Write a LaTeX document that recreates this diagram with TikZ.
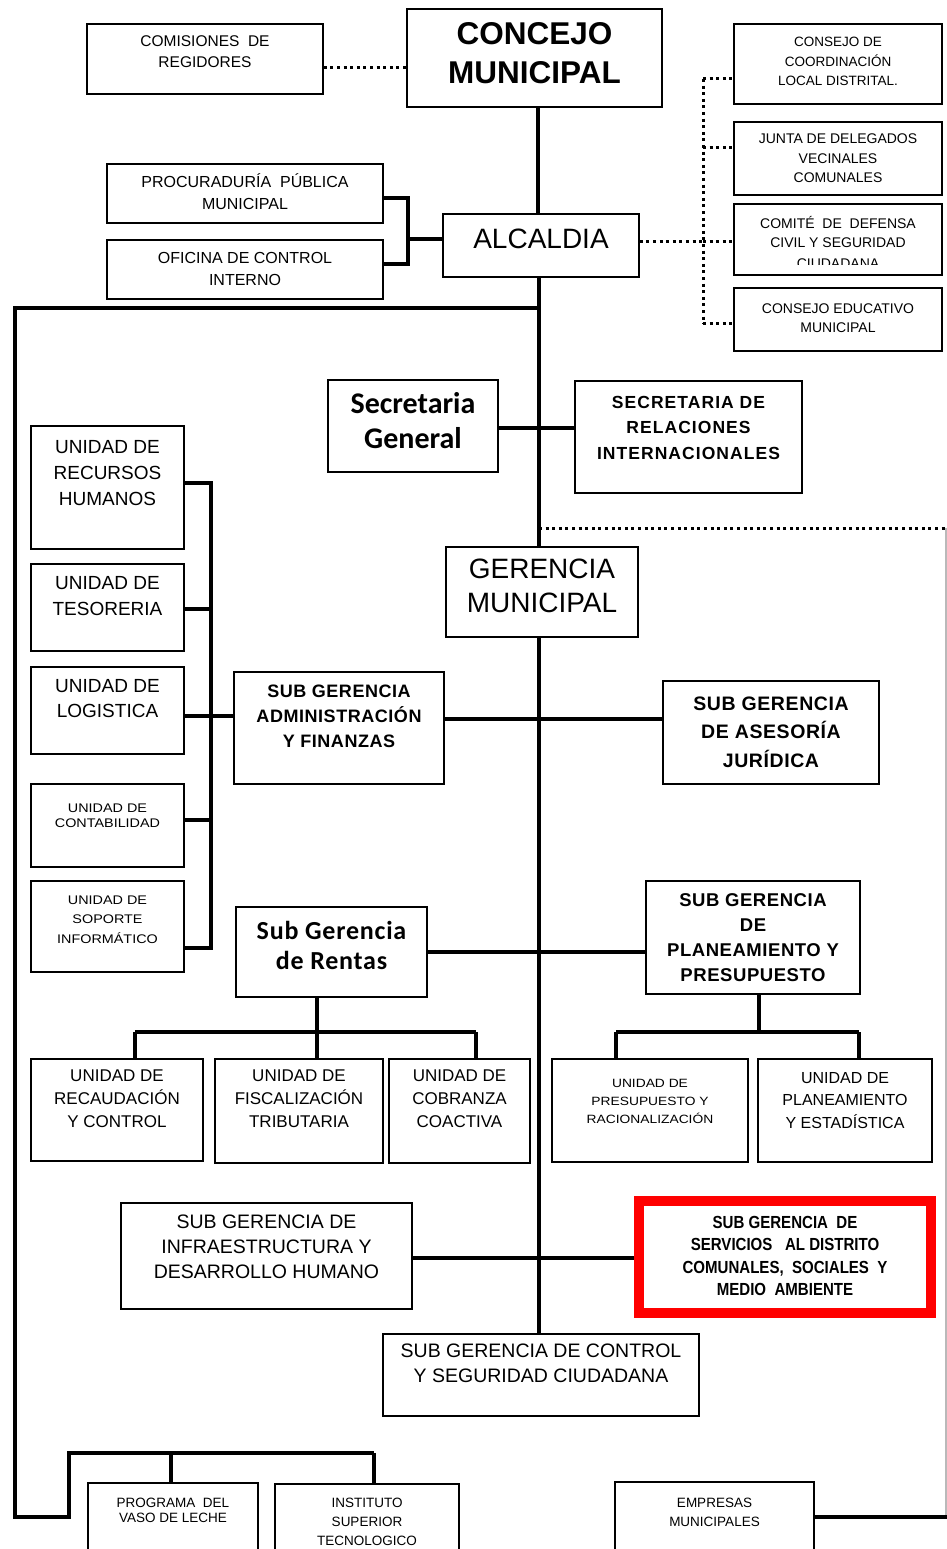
\documentclass[tikz,border=0pt]{standalone}
\usepackage{fontspec}
\setmainfont{Liberation Sans}
\newfontfamily\carlito{Carlito}
\newfontfamily\carlitosp[LetterSpace=3]{Carlito}
\newfontfamily\widesans[FakeStretch=1.15]{Liberation Sans}
\newfontfamily\narrowsans[FakeStretch=0.86]{Liberation Sans}
\newfontfamily\spacedA[LetterSpace=6]{Liberation Sans}
\newfontfamily\spacedB[LetterSpace=3]{Liberation Sans}
\usetikzlibrary{backgrounds}
\newcommand\fsz[2]{\fontsize{#1}{#2}\selectfont}
% box by its corners: [options]{name}{x1}{y1}{x2}{y2}
\newcommand\BX[6][]{%
  \pgfmathsetmacro\bxw{#5-#3}\pgfmathsetmacro\bxh{#6-#4}%
  \pgfmathsetmacro\bxx{(#3+#5)/2}\pgfmathsetmacro\bxy{(#4+#6)/2}%
  \node[orgbox,#1,minimum width=\bxw pt,minimum height=\bxh pt] (#2) at (\bxx,\bxy) {};}
% centred label inside a box: {box}{first baseline}{font}{lines}
\newcommand\LB[4]{%
  \node[lbl,font=#3] (#1-t) at (#1.center |- 0,#2) {\begin{tabular}[t]{@{}c@{}}#4\end{tabular}};}
\begin{document}
\begin{tikzpicture}[x=1pt,y=-1pt,
  orgbox/.style={draw,line width=1.7pt,fill=white,inner sep=0pt},
  lbl/.style={anchor=base,inner sep=0pt},
  conn/.style={line width=3.2pt},
  dotline/.style={line width=3pt,dash pattern=on 3pt off 3.6pt},
  thin/.style={line width=1.2pt,draw=gray!55}]
\useasboundingbox (0,0) rectangle (947,1549);
\clip (0,0) rectangle (947,1549);

% ---- top level
\BX{comis}{87}{24}{323}{94}
\LB{comis}{47}{\fsz{15.5}{21}}{COMISIONES\ \ DE\\REGIDORES}
\BX{concejo}{407}{9}{662}{107}
\LB{concejo}{44.5}{\bfseries\fsz{31.5}{39}}{CONCEJO\\MUNICIPAL}
\BX{proc}{107}{164}{383}{223}
\LB{proc}{188}{\fsz{16}{21.5}}{PROCURADURÍA\ \ PÚBLICA\\MUNICIPAL}
\BX{ofic}{107}{240}{383}{299}
\LB{ofic}{263}{\fsz{16}{22}}{OFICINA DE CONTROL\\INTERNO}
\BX{alcaldia}{443}{214}{639}{277}
\LB{alcaldia}{248}{\fsz{28}{34}}{ALCALDIA}

% ---- consultative bodies
\BX{cons1}{734}{24}{942}{104}
\LB{cons1}{47}{\fsz{13.5}{19.5}}{CONSEJO DE\\COORDINACIÓN\\LOCAL DISTRITAL.}
\BX{junta}{734}{122}{942}{195}
\LB{junta}{144}{\fsz{14}{19.5}}{JUNTA DE DELEGADOS\\VECINALES\\COMUNALES}
\BX{comite}{734}{204}{942}{275}
\begin{scope}
\clip (736,205) rectangle (940,264);
\LB{comite}{228}{\fsz{14}{20}}{COMITÉ\ \ DE\ \ DEFENSA\\CIVIL Y SEGURIDAD\\CIUDADANA}
\end{scope}
\BX{educ}{734}{288}{942}{351}
\LB{educ}{313}{\fsz{14}{19.5}}{CONSEJO EDUCATIVO\\MUNICIPAL}

% ---- secretariats
\BX{secg}{328}{380}{498}{472}
\LB{secg}{413}{\carlito\bfseries\fsz{30}{35}}{Secretaria\\General}
\BX{sri}{575}{381}{802}{493}
\LB{sri}{408}{\spacedA\bfseries\fsz{17.5}{25.5}}{SECRETARIA DE\\RELACIONES\\INTERNACIONALES}
\BX{gerencia}{446}{547}{638}{637}
\LB{gerencia}{578}{\fsz{28}{34}}{GERENCIA\\MUNICIPAL}

% ---- administrative units
\BX{rrhh}{31}{426}{184}{549}
\LB{rrhh}{453}{\fsz{19}{26}}{UNIDAD DE\\RECURSOS\\HUMANOS}
\BX{tes}{31}{564}{184}{651}
\LB{tes}{589}{\fsz{19}{26.5}}{UNIDAD DE\\TESORERIA}
\BX{log}{31}{667}{184}{754}
\LB{log}{692}{\fsz{19}{25.5}}{UNIDAD DE\\LOGISTICA}
\BX{cont}{31}{784}{184}{867}
\LB{cont}{812}{\widesans\fsz{12.5}{15}}{UNIDAD DE\\CONTABILIDAD}
\BX{sop}{31}{881}{184}{972}
\LB{sop}{904}{\widesans\fsz{12.5}{19.5}}{UNIDAD DE\\SOPORTE\\INFORMÁTICO}
\BX{sgaf}{234}{672}{444}{784}
\LB{sgaf}{697}{\spacedB\bfseries\fsz{18}{25}}{SUB GERENCIA\\ADMINISTRACIÓN\\Y FINANZAS}
\BX{ases}{663}{681}{879}{784}
\LB{ases}{710}{\spacedB\bfseries\fsz{19.5}{28.5}}{SUB GERENCIA\\DE ASESORÍA\\JURÍDICA}

% ---- revenue and planning
\BX{rentas}{236}{907}{427}{997}
\LB{rentas}{939}{\carlitosp\bfseries\fsz{26}{30}}{Sub Gerencia\\de Rentas}
\BX{plan}{646}{881}{860}{994}
\LB{plan}{906}{\spacedB\bfseries\fsz{18.5}{25}}{SUB GERENCIA\\DE\\PLANEAMIENTO Y\\PRESUPUESTO}
\BX{recaud}{31}{1059}{203}{1161}
\LB{recaud}{1081}{\fsz{17}{23}}{UNIDAD DE\\RECAUDACIÓN\\Y CONTROL}
\BX{fisc}{215}{1059}{383}{1163}
\LB{fisc}{1081}{\fsz{17}{23}}{UNIDAD DE\\FISCALIZACIÓN\\TRIBUTARIA}
\BX{cobr}{389}{1059}{530}{1163}
\LB{cobr}{1081}{\fsz{17}{23}}{UNIDAD DE\\COBRANZA\\COACTIVA}
\BX{presup}{552}{1059}{748}{1162}
\LB{presup}{1087}{\widesans\fsz{12}{18}}{UNIDAD DE\\PRESUPUESTO Y\\RACIONALIZACIÓN}
\BX{plest}{758}{1059}{932}{1162}
\LB{plest}{1083}{\fsz{16}{22.5}}{UNIDAD DE\\PLANEAMIENTO\\Y ESTADÍSTICA}

% ---- line departments
\BX{infra}{121}{1203}{412}{1309}
\LB{infra}{1228}{\fsz{19.5}{25}}{SUB GERENCIA DE\\INFRAESTRUCTURA Y\\DESARROLLO HUMANO}
\BX[draw=red,line width=10pt]{red}{639}{1201}{931}{1313}
\LB{red}{1228}{\narrowsans\bfseries\fsz{17.5}{22.5}}{SUB GERENCIA\ \ DE\\SERVICIOS\ \ \ AL DISTRITO\\COMUNALES,\ \ SOCIALES\ \ Y\\MEDIO\ \ AMBIENTE}
\BX{control}{383}{1334}{699}{1416}
\LB{control}{1357}{\fsz{19.5}{25}}{SUB GERENCIA DE CONTROL\\Y SEGURIDAD CIUDADANA}

% ---- decentralised bodies
\BX{vaso}{88}{1483}{258}{1575}
\LB{vaso}{1507}{\fsz{13.5}{15}}{PROGRAMA\ \ DEL\\VASO DE LECHE}
\BX{inst}{275}{1484}{459}{1575}
\LB{inst}{1507}{\fsz{13.5}{19}}{INSTITUTO\\SUPERIOR\\TECNOLOGICO}
\BX{empr}{615}{1482}{814}{1575}
\LB{empr}{1507}{\fsz{13.5}{19}}{EMPRESAS\\MUNICIPALES}

% ---- connectors
\begin{scope}[on background layer]
\coordinate (rentr) at (947,1517);
\coordinate (dotr) at (947,528);
% council and mayor
\draw[dotline] (comis.east |- 0,68) -- (concejo.west |- 0,68);
\draw[conn] (concejo.south -| 538,0) -- (alcaldia.north -| 538,0);
\draw[conn] (proc.east |- 0,198) -| (408,264) -- (ofic.east |- 0,264);
\draw[conn] (408,239) -- (alcaldia.west |- 0,239);
\draw[dotline] (alcaldia.east |- 0,241) -- (703,241);
\draw[dotline] (703,79) -- (703,324);
\draw[dotline] (703,79) -- (cons1.west |- 0,79);
\draw[dotline] (703,148) -- (junta.west |- 0,148);
\draw[dotline] (703,241) -- (comite.west |- 0,241);
\draw[dotline] (703,323) -- (educ.west |- 0,323);
% main spine
\draw[conn] (alcaldia.south -| 539,0) -- (gerencia.north -| 539,0);
\draw[conn] (gerencia.south -| 539,0) -- (control.north -| 539,0);
\draw[conn] (secg.east |- 0,428) -- (sri.west |- 0,428);
\draw[dotline] (539,528) -- (dotr);
\draw[thin] (946,528) -- (946,1517);
% outer frame to decentralised bodies
\draw[conn] (539,308) -- (15,308) -- (15,1517) -- (69,1517) -- (69,1453) -- (374,1453);
\draw[conn] (171,1453) -- (vaso.north -| 171,0);
\draw[conn] (374,1453) -- (inst.north -| 374,0);
\draw[conn] (empr.east |- 0,1517) -- (rentr);
% administration
\draw[conn] (rrhh.east |- 0,483) -- (211,483) -- (211,948) -- (sop.east |- 0,948);
\draw[conn] (tes.east |- 0,609) -- (211,609);
\draw[conn] (log.east |- 0,716) -- (sgaf.west |- 0,716);
\draw[conn] (cont.east |- 0,820) -- (211,820);
\draw[conn] (sgaf.east |- 0,719) -- (ases.west |- 0,719);
% revenue and planning
\draw[conn] (rentas.east |- 0,952) -- (plan.west |- 0,952);
\draw[conn] (rentas.south -| 317,0) -- (317,1032);
\draw[conn] (135,1032) -- (476,1032);
\draw[conn] (135,1032) -- (recaud.north -| 135,0);
\draw[conn] (317,1032) -- (fisc.north -| 317,0);
\draw[conn] (476,1032) -- (cobr.north -| 476,0);
\draw[conn] (plan.south -| 759,0) -- (759,1032);
\draw[conn] (616,1032) -- (859,1032);
\draw[conn] (616,1032) -- (presup.north -| 616,0);
\draw[conn] (859,1032) -- (plest.north -| 859,0);
% line departments
\draw[conn] (infra.east |- 0,1258) -- (red.west |- 0,1258);
\end{scope}
\end{tikzpicture}
\end{document}
